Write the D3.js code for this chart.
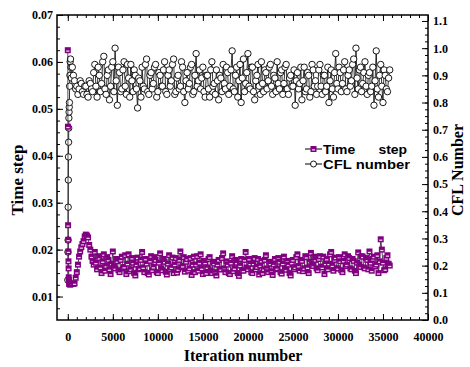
<!DOCTYPE html>
<html>
<head>
<meta charset="utf-8">
<script src="https://cdn.jsdelivr.net/npm/d3@7"></script>
<style>
  html, body { margin: 0; padding: 0; background: #fff; }
  svg { display: block; }
</style>
</head>
<body>
<figure id="chart" style="margin:0"></figure>
<script>
// iteration numbers at which both quantities were sampled
const iterations = [
  0, 15, 30, 45, 60, 75, 90, 105, 120, 140, 160, 180, 200, 230, 260, 300, 350, 400,
  500, 625, 750, 875, 1000, 1125, 1250, 1375, 1500, 1625, 1750, 1875, 2000, 2125, 2250, 2375, 2500, 2625, 2750, 2875,
  3000, 3125, 3250, 3375, 3500, 3625, 3750, 3875, 4000, 4125, 4250, 4375, 4500, 4625, 4750, 4875, 5000, 5125, 5250, 5375,
  5500, 5625, 5750, 5875, 6000, 6125, 6250, 6375, 6500, 6625, 6750, 6875, 7000, 7125, 7250, 7375, 7500, 7625, 7750, 7875,
  8000, 8125, 8250, 8375, 8500, 8625, 8750, 8875, 9000, 9125, 9250, 9375, 9500, 9625, 9750, 9875, 10000, 10125, 10250, 10375,
  10500, 10625, 10750, 10875, 11000, 11125, 11250, 11375, 11500, 11625, 11750, 11875, 12000, 12125, 12250, 12375, 12500, 12625, 12750, 12875,
  13000, 13125, 13250, 13375, 13500, 13625, 13750, 13875, 14000, 14125, 14250, 14375, 14500, 14625, 14750, 14875, 15000, 15125, 15250, 15375,
  15500, 15625, 15750, 15875, 16000, 16125, 16250, 16375, 16500, 16625, 16750, 16875, 17000, 17125, 17250, 17375, 17500, 17625, 17750, 17875,
  18000, 18125, 18250, 18375, 18500, 18625, 18750, 18875, 19000, 19125, 19250, 19375, 19500, 19625, 19750, 19875, 20000, 20125, 20250, 20375,
  20500, 20625, 20750, 20875, 21000, 21125, 21250, 21375, 21500, 21625, 21750, 21875, 22000, 22125, 22250, 22375, 22500, 22625, 22750, 22875,
  23000, 23125, 23250, 23375, 23500, 23625, 23750, 23875, 24000, 24125, 24250, 24375, 24500, 24625, 24750, 24875, 25000, 25125, 25250, 25375,
  25500, 25625, 25750, 25875, 26000, 26125, 26250, 26375, 26500, 26625, 26750, 26875, 27000, 27125, 27250, 27375, 27500, 27625, 27750, 27875,
  28000, 28125, 28250, 28375, 28500, 28625, 28750, 28875, 29000, 29125, 29250, 29375, 29500, 29625, 29750, 29875, 30000, 30125, 30250, 30375,
  30500, 30625, 30750, 30875, 31000, 31125, 31250, 31375, 31500, 31625, 31750, 31875, 32000, 32125, 32250, 32375, 32500, 32625, 32750, 32875,
  33000, 33125, 33250, 33375, 33500, 33625, 33750, 33875, 34000, 34125, 34250, 34375, 34500, 34625, 34750, 34875, 35000, 35125, 35250, 35375,
  35500, 35625, 35750
];

// time step (left axis)
const timeStep = [
  0.0625, 0.0462, 0.0252, 0.0221, 0.0196, 0.0175, 0.0160, 0.0141, 0.0135, 0.0130, 0.0128, 0.0127, 0.0127, 0.0126, 0.0126, 0.0126, 0.0127, 0.0127,
  0.0127, 0.0127, 0.0128, 0.0140, 0.0152, 0.0168, 0.0185, 0.0196, 0.0205, 0.0212, 0.0218, 0.0228, 0.0232, 0.0230, 0.0226, 0.0210, 0.0200, 0.0185, 0.0176, 0.0168,
  0.0195, 0.0172, 0.0158, 0.0186, 0.0182, 0.0162, 0.0150, 0.0175, 0.0190, 0.0155, 0.0165, 0.0184, 0.0178, 0.0158, 0.0148, 0.0170, 0.0196, 0.0163, 0.0160, 0.0180,
  0.0175, 0.0156, 0.0152, 0.0178, 0.0185, 0.0160, 0.0163, 0.0188, 0.0148, 0.0170, 0.0190, 0.0154, 0.0158, 0.0182, 0.0172, 0.0150, 0.0145, 0.0168, 0.0183, 0.0158,
  0.0160, 0.0178, 0.0195, 0.0162, 0.0152, 0.0180, 0.0170, 0.0150, 0.0147, 0.0176, 0.0186, 0.0156, 0.0163, 0.0184, 0.0178, 0.0152, 0.0150, 0.0172, 0.0192, 0.0160,
  0.0156, 0.0180, 0.0174, 0.0153, 0.0147, 0.0170, 0.0188, 0.0158, 0.0162, 0.0183, 0.0150, 0.0168, 0.0182, 0.0151, 0.0158, 0.0178, 0.0196, 0.0162, 0.0165, 0.0184,
  0.0153, 0.0174, 0.0180, 0.0155, 0.0160, 0.0182, 0.0146, 0.0168, 0.0185, 0.0152, 0.0168, 0.0186, 0.0155, 0.0172, 0.0190, 0.0160, 0.0148, 0.0176, 0.0172, 0.0150,
  0.0162, 0.0180, 0.0184, 0.0156, 0.0150, 0.0174, 0.0170, 0.0152, 0.0145, 0.0168, 0.0178, 0.0158, 0.0158, 0.0182, 0.0192, 0.0160, 0.0152, 0.0175, 0.0168, 0.0150,
  0.0148, 0.0172, 0.0186, 0.0154, 0.0160, 0.0178, 0.0172, 0.0150, 0.0144, 0.0166, 0.0180, 0.0156, 0.0155, 0.0178, 0.0195, 0.0162, 0.0158, 0.0180, 0.0170, 0.0152,
  0.0150, 0.0170, 0.0182, 0.0158, 0.0163, 0.0180, 0.0147, 0.0166, 0.0176, 0.0150, 0.0158, 0.0178, 0.0188, 0.0160, 0.0152, 0.0174, 0.0170, 0.0154, 0.0146, 0.0168,
  0.0180, 0.0158, 0.0160, 0.0182, 0.0174, 0.0152, 0.0149, 0.0170, 0.0185, 0.0160, 0.0157, 0.0176, 0.0168, 0.0150, 0.0145, 0.0172, 0.0178, 0.0158, 0.0162, 0.0184,
  0.0190, 0.0165, 0.0155, 0.0178, 0.0176, 0.0154, 0.0160, 0.0186, 0.0184, 0.0162, 0.0150, 0.0174, 0.0193, 0.0168, 0.0165, 0.0185, 0.0178, 0.0160, 0.0156, 0.0180,
  0.0186, 0.0164, 0.0162, 0.0185, 0.0148, 0.0170, 0.0180, 0.0158, 0.0170, 0.0190, 0.0195, 0.0166, 0.0155, 0.0178, 0.0183, 0.0160, 0.0160, 0.0184, 0.0175, 0.0156,
  0.0152, 0.0176, 0.0190, 0.0165, 0.0168, 0.0186, 0.0182, 0.0160, 0.0158, 0.0180, 0.0176, 0.0155, 0.0150, 0.0172, 0.0194, 0.0168, 0.0163, 0.0186, 0.0185, 0.0162,
  0.0160, 0.0182, 0.0178, 0.0158, 0.0196, 0.0172, 0.0155, 0.0180, 0.0185, 0.0164, 0.0168, 0.0188, 0.0150, 0.0175, 0.0222, 0.0200, 0.0172, 0.0156, 0.0158, 0.0182,
  0.0188, 0.0170, 0.0166
];

// CFL number (right axis)
const cflNumber = [
  0.147, 0.25, 0.294, 0.415, 0.515, 0.60, 0.654, 0.706, 0.743, 0.765, 0.783, 0.80, 0.86, 0.90, 0.95, 0.96, 0.93, 0.89,
  0.93, 0.90, 0.88, 0.85, 0.86, 0.83, 0.85, 0.88, 0.87, 0.84, 0.83, 0.86, 0.86, 0.83, 0.82, 0.88, 0.87, 0.85, 0.84, 0.91,
  0.94, 0.86, 0.82, 0.93, 0.90, 0.84, 0.87, 0.95, 0.97, 0.85, 0.83, 0.90, 0.92, 0.81, 0.86, 0.93, 0.95, 0.84, 1.00, 0.88,
  0.79, 0.93, 0.91, 0.84, 0.85, 0.92, 0.95, 0.86, 0.83, 0.94, 0.89, 0.82, 0.94, 0.88, 0.84, 0.92, 0.90, 0.85, 0.78, 0.89,
  0.88, 0.82, 0.93, 0.86, 0.85, 0.94, 0.96, 0.84, 0.83, 0.90, 0.91, 0.85, 0.87, 0.93, 0.94, 0.82, 0.84, 0.91, 0.90, 0.86,
  0.86, 0.92, 0.95, 0.84, 0.83, 0.90, 0.92, 0.86, 0.88, 0.94, 0.96, 0.83, 0.84, 0.89, 0.90, 0.85, 0.86, 0.95, 0.93, 0.84,
  0.80, 0.88, 0.91, 0.85, 0.87, 0.93, 0.94, 0.83, 0.84, 0.90, 0.98, 0.86, 0.88, 0.92, 0.85, 0.89, 0.93, 0.84, 0.82, 0.90,
  0.90, 0.85, 0.82, 0.92, 0.95, 0.86, 0.87, 0.83, 0.92, 0.88, 0.81, 0.90, 0.89, 0.84, 0.94, 0.87, 0.85, 0.93, 0.91, 0.83,
  0.86, 0.92, 0.99, 0.85, 0.84, 0.90, 0.93, 0.82, 0.88, 0.94, 0.80, 0.89, 0.96, 0.84, 0.87, 0.91, 0.98, 0.86, 0.85, 0.93,
  0.93, 0.84, 0.81, 0.88, 0.90, 0.94, 0.86, 0.83, 0.95, 0.87, 0.84, 0.92, 0.91, 0.85, 0.88, 0.93, 0.94, 0.86, 0.83, 0.90,
  0.89, 0.84, 0.95, 0.87, 0.85, 0.91, 0.92, 0.83, 0.87, 0.93, 0.94, 0.85, 0.83, 0.89, 0.90, 0.86, 0.86, 0.92, 0.79, 0.88,
  0.91, 0.85, 0.87, 0.93, 0.81, 0.88, 0.93, 0.84, 0.85, 0.91, 0.90, 0.82, 0.84, 0.94, 0.92, 0.86, 0.88, 0.83, 0.86, 0.92,
  0.94, 0.86, 0.83, 0.90, 0.90, 0.84, 0.86, 0.93, 0.80, 0.88, 0.92, 0.85, 0.82, 0.91, 0.98, 0.87, 0.85, 0.93, 0.91, 0.84,
  0.87, 0.92, 0.95, 0.85, 0.84, 0.90, 0.92, 0.86, 0.88, 0.94, 0.96, 0.83, 1.00, 0.89, 0.85, 0.92, 0.93, 0.84, 0.87, 0.91,
  0.95, 0.86, 0.83, 0.90, 0.91, 0.84, 0.86, 0.93, 0.79, 0.88, 0.99, 0.85, 0.82, 0.90, 0.94, 0.86, 0.80, 0.92, 0.90, 0.85,
  0.84, 0.89, 0.92
];

const xTicks = [0, 5000, 10000, 15000, 20000, 25000, 30000, 35000, 40000];
const leftTicks = [0.01, 0.02, 0.03, 0.04, 0.05, 0.06, 0.07];
const rightTicks = [0.0, 0.1, 0.2, 0.3, 0.4, 0.5, 0.6, 0.7, 0.8, 0.9, 1.0, 1.1];
const legendLabels = ["Time      step", "CFL number"];

const W = 470, H = 367;
const plot = { left: 57, right: 428, top: 15, bottom: 320 };
const purple = "#800080";

const svg = d3.select("#chart").append("svg")
  .attr("width", W)
  .attr("height", H);

const x = d3.scaleLinear().domain([-1200, 40000]).range([plot.left, plot.right]);
const yL = d3.scaleLinear().domain([0.005, 0.07]).range([plot.bottom, plot.top]);
const yR = d3.scaleLinear().domain([0, 1.122]).range([plot.bottom, plot.top]);

const serif = "'Liberation Serif', 'Times New Roman', serif";
const sans = "'Liberation Sans', Arial, sans-serif";

// ---- axes (ticks point inward) ----
function styleAxis(g) {
  g.select(".domain").remove();
  g.selectAll(".tick line").attr("stroke", "#000").attr("stroke-width", 1);
  g.selectAll(".tick text")
    .attr("font-family", serif)
    .attr("font-weight", "bold")
    .attr("font-size", 12)
    .attr("fill", "#000");
}

// bottom
svg.append("g")
  .attr("transform", `translate(0,${plot.bottom})`)
  .call(d3.axisBottom(x).tickValues(d3.range(0, 40001, 1000)).tickSize(-3).tickFormat(""))
  .call(styleAxis);
svg.append("g")
  .attr("transform", `translate(0,${plot.bottom})`)
  .call(d3.axisBottom(x).tickValues(xTicks).tickSize(-6).tickPadding(12).tickFormat(d3.format("d")))
  .call(styleAxis);
// top (mirror ticks)
svg.append("g")
  .attr("transform", `translate(0,${plot.top})`)
  .call(d3.axisTop(x).tickValues(d3.range(0, 40001, 1000)).tickSize(-3).tickFormat(""))
  .call(styleAxis);
svg.append("g")
  .attr("transform", `translate(0,${plot.top})`)
  .call(d3.axisTop(x).tickValues(xTicks).tickSize(-6).tickFormat(""))
  .call(styleAxis);

// left
svg.append("g")
  .attr("transform", `translate(${plot.left},0)`)
  .call(d3.axisLeft(yL).tickValues(d3.range(0.0075, 0.0701, 0.0025)).tickSize(-3).tickFormat(""))
  .call(styleAxis);
svg.append("g")
  .attr("transform", `translate(${plot.left},0)`)
  .call(d3.axisLeft(yL).tickValues(leftTicks).tickSize(-6).tickPadding(4).tickFormat(d3.format(".2f")))
  .call(styleAxis);

// right
svg.append("g")
  .attr("transform", `translate(${plot.right},0)`)
  .call(d3.axisRight(yR).tickValues(d3.range(0, 1.101, 0.025)).tickSize(-3).tickFormat(""))
  .call(styleAxis);
svg.append("g")
  .attr("transform", `translate(${plot.right},0)`)
  .call(d3.axisRight(yR).tickValues(rightTicks).tickSize(-6).tickPadding(5).tickFormat(d3.format(".1f")))
  .call(styleAxis);

// frame
svg.append("rect")
  .attr("x", plot.left).attr("y", plot.top)
  .attr("width", plot.right - plot.left).attr("height", plot.bottom - plot.top)
  .attr("fill", "none").attr("stroke", "#000").attr("stroke-width", 1.5);

// ---- series ----
const cflData = iterations.map((it, i) => ({ it, v: cflNumber[i] }));
const tsData = iterations.map((it, i) => ({ it, v: timeStep[i] }));

svg.append("path")
  .datum(cflData)
  .attr("fill", "none").attr("stroke", "#000").attr("stroke-width", 0.8)
  .attr("d", d3.line().x(d => x(d.it)).y(d => yR(d.v)));

svg.append("g").selectAll("circle")
  .data(cflData).enter().append("circle")
  .attr("cx", d => x(d.it)).attr("cy", d => yR(d.v)).attr("r", 3.2)
  .attr("fill", "#fff").attr("stroke", "#000").attr("stroke-width", 0.9);

svg.append("path")
  .datum(tsData)
  .attr("fill", "none").attr("stroke", "#222").attr("stroke-width", 0.8)
  .attr("d", d3.line().x(d => x(d.it)).y(d => yL(d.v)));

function squareMarker(sel) {
  sel.append("rect").attr("x", -3).attr("y", -3).attr("width", 6).attr("height", 6)
    .attr("fill", purple);
  sel.append("rect").attr("x", -1.6).attr("y", 0.3).attr("width", 3.2).attr("height", 1.2)
    .attr("fill", "#f2dcf2");
}

svg.append("g").selectAll("g")
  .data(tsData).enter().append("g")
  .attr("transform", d => `translate(${x(d.it)},${yL(d.v)})`)
  .call(squareMarker);

// ---- legend ----
const legend = svg.append("g").attr("transform", "translate(305,149)");
const legendWidths = [84, 87];
legendLabels.forEach((label, i) => {
  const row = legend.append("g").attr("transform", `translate(0,${i * 15})`);
  row.append("line").attr("x1", 0).attr("x2", 17).attr("y1", 0).attr("y2", 0)
    .attr("stroke", "#000").attr("stroke-width", 1);
  if (i === 0) {
    row.append("g").attr("transform", "translate(8.5,0)").call(squareMarker);
  } else {
    row.append("circle").attr("cx", 8.5).attr("cy", 0).attr("r", 3)
      .attr("fill", "#fff").attr("stroke", "#000").attr("stroke-width", 0.9);
  }
  row.append("text").attr("x", 18).attr("y", 4.5)
    .attr("font-family", sans).attr("font-weight", "bold").attr("font-size", 12.5)
    .attr("textLength", legendWidths[i]).attr("lengthAdjust", "spacingAndGlyphs")
    .style("white-space", "pre")
    .text(label);
});

// ---- axis titles ----
svg.append("text")
  .attr("x", 243).attr("y", 361)
  .attr("text-anchor", "middle")
  .attr("font-family", serif).attr("font-weight", "bold").attr("font-size", 16)
  .text("Iteration number");

svg.append("text")
  .attr("transform", `translate(23,180) rotate(-90)`)
  .attr("text-anchor", "middle")
  .attr("font-family", serif).attr("font-weight", "bold").attr("font-size", 17)
  .text("Time step");

svg.append("text")
  .attr("transform", `translate(463,170) rotate(-90)`)
  .attr("text-anchor", "middle")
  .attr("font-family", serif).attr("font-weight", "bold").attr("font-size", 16)
  .text("CFL Number");
</script>
</body>
</html>
